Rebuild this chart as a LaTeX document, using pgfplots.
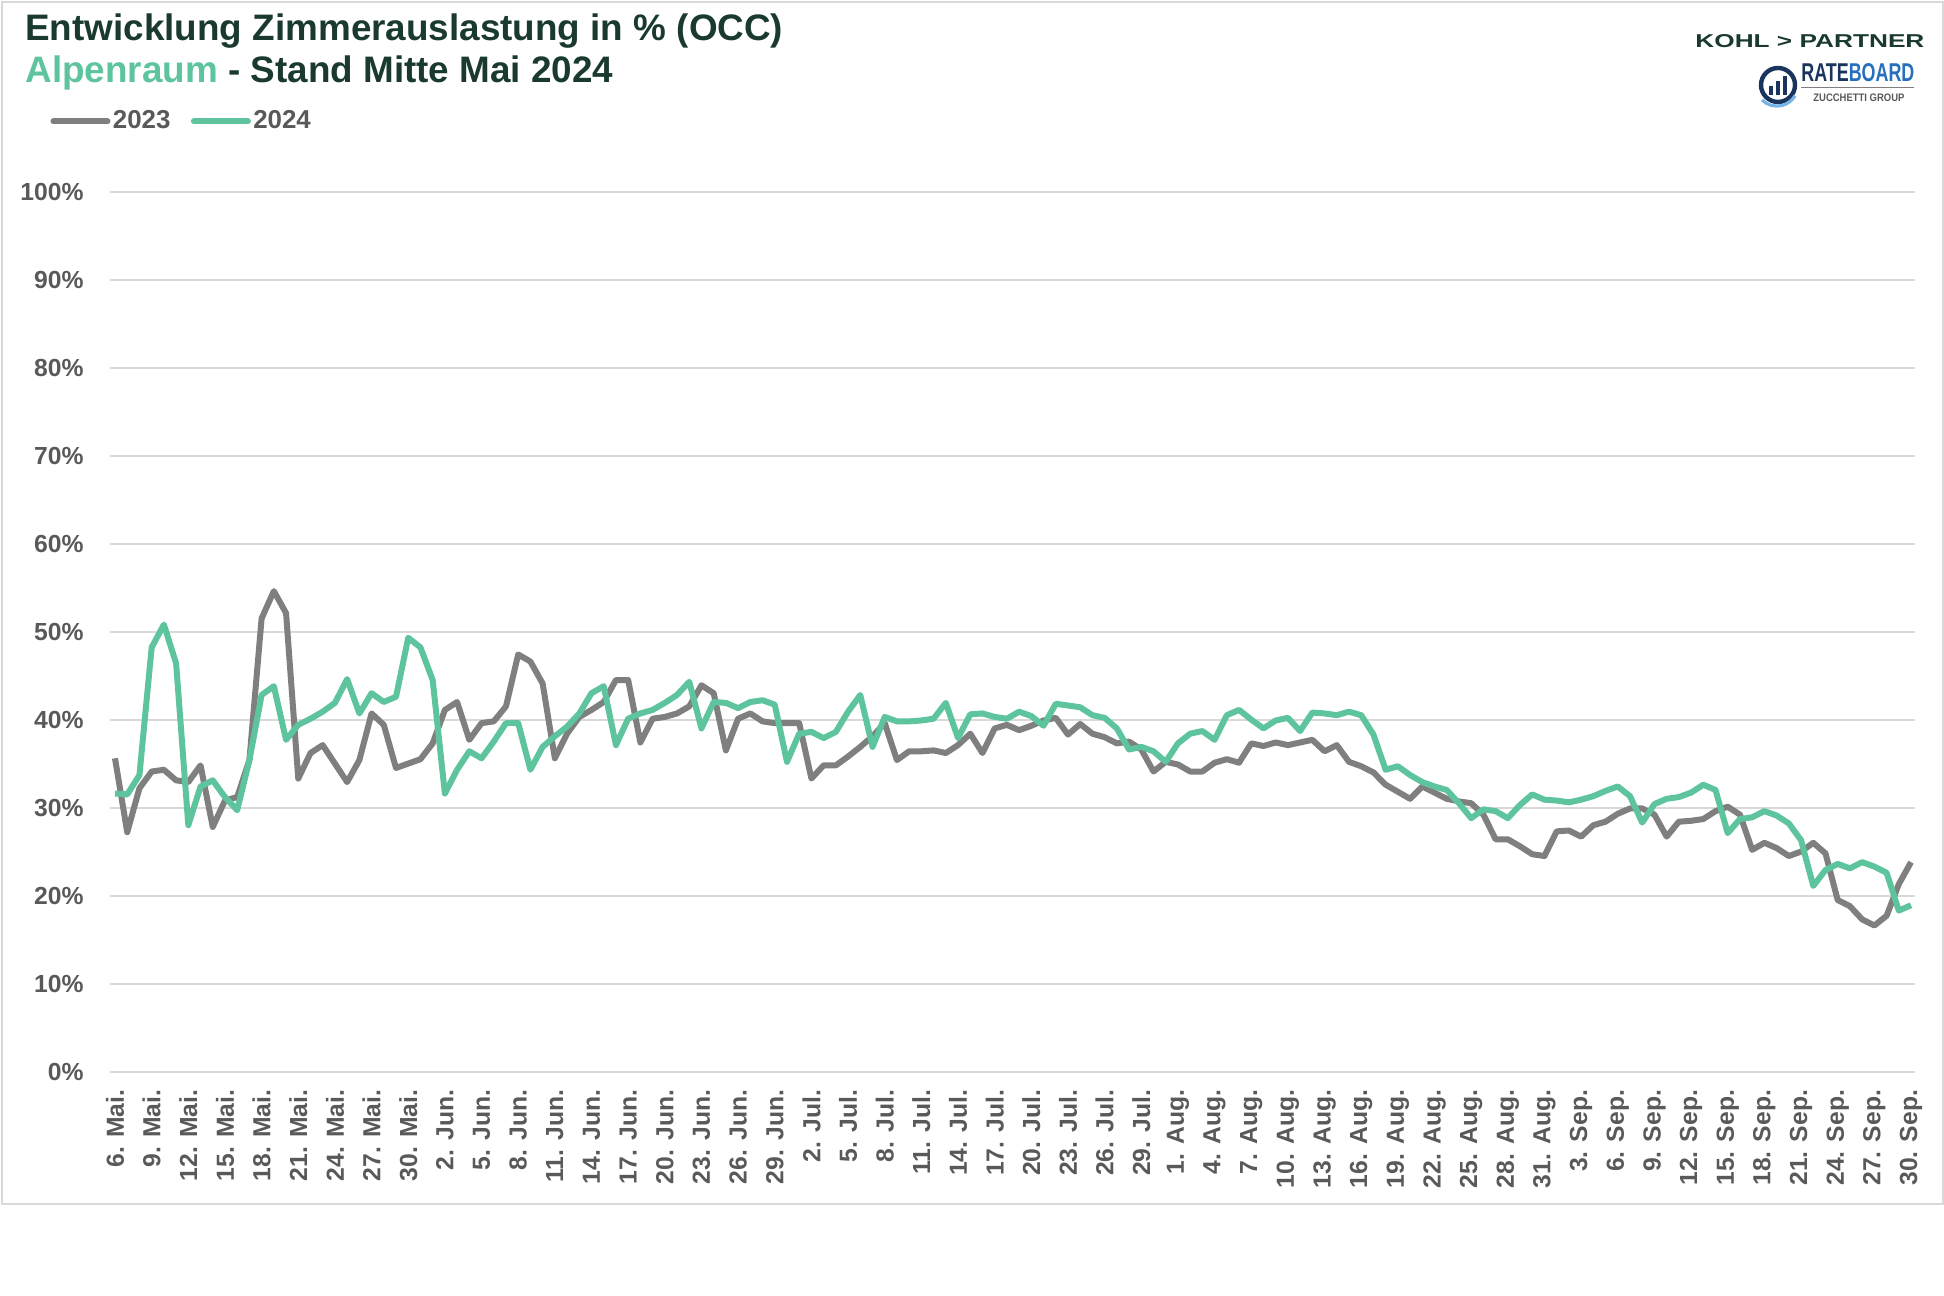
\documentclass[border=0pt]{standalone}
\usepackage{pgfplots}
\pgfplotsset{compat=1.18}
\usepackage{pgfplotstable}
\usepackage{fontspec}
\setmainfont{Liberation Sans}
\usepackage{graphicx}
\definecolor{titlegreen}{RGB}{26,58,46}
\definecolor{lgreen}{RGB}{94,196,158}
\definecolor{lgray}{RGB}{127,127,127}
\definecolor{tickgray}{RGB}{89,89,89}
\definecolor{gridgray}{RGB}{217,217,217}
\definecolor{navy}{RGB}{27,52,94}
\definecolor{rbblue}{RGB}{38,110,190}
\definecolor{rblight}{RGB}{120,180,230}

\pgfplotstableread{
d y23 y24
0 35.7 31.7
1 27.3 31.6
2 32.3 33.8
3 34.2 48.3
4 34.4 50.9
5 33.2 46.5
6 33.0 28.1
7 34.9 32.5
8 27.9 33.2
9 30.9 31.3
10 31.3 29.8
11 35.5 35.5
12 51.6 42.9
13 54.7 43.9
14 52.2 37.8
15 33.4 39.5
16 36.3 40.2
17 37.2 41.0
18 35.1 42.0
19 33.0 44.7
20 35.5 40.8
21 40.8 43.1
22 39.5 42.1
23 34.6 42.7
24 35.1 49.4
25 35.6 48.3
26 37.4 44.6
27 41.2 31.7
28 42.1 34.4
29 37.8 36.5
30 39.7 35.7
31 39.9 37.6
32 41.6 39.7
33 47.5 39.7
34 46.7 34.4
35 44.2 37.0
36 35.7 38.2
37 38.5 39.3
38 40.4 40.8
39 41.2 43.1
40 42.1 43.9
41 44.6 37.2
42 44.6 40.2
43 37.5 40.8
44 40.2 41.2
45 40.4 42.0
46 40.8 42.9
47 41.6 44.4
48 44.0 39.1
49 43.1 42.1
50 36.6 42.0
51 40.2 41.4
52 40.8 42.1
53 39.9 42.3
54 39.7 41.8
55 39.7 35.3
56 39.7 38.5
57 33.4 38.7
58 34.9 38.0
59 34.9 38.7
60 35.9 41.0
61 37.0 42.9
62 38.2 37.0
63 39.7 40.4
64 35.5 39.9
65 36.5 39.9
66 36.5 40.0
67 36.6 40.2
68 36.3 42.0
69 37.2 38.0
70 38.5 40.7
71 36.3 40.8
72 39.1 40.4
73 39.5 40.2
74 38.9 41.0
75 39.4 40.5
76 40.0 39.4
77 40.3 41.9
78 38.4 41.7
79 39.6 41.5
80 38.5 40.6
81 38.1 40.3
82 37.4 39.1
83 37.6 36.7
84 36.7 37.0
85 34.2 36.5
86 35.3 35.3
87 35.0 37.4
88 34.2 38.5
89 34.2 38.8
90 35.2 37.8
91 35.6 40.6
92 35.2 41.2
93 37.4 40.1
94 37.1 39.1
95 37.5 40.0
96 37.2 40.3
97 37.5 38.8
98 37.8 40.9
99 36.5 40.8
100 37.2 40.6
101 35.3 41.0
102 34.8 40.6
103 34.1 38.4
104 32.7 34.4
105 31.9 34.8
106 31.1 33.8
107 32.5 33.0
108 31.8 32.5
109 31.1 32.1
110 30.8 30.6
111 30.6 28.9
112 29.3 29.9
113 26.5 29.7
114 26.5 28.9
115 25.7 30.4
116 24.8 31.6
117 24.6 31.0
118 27.4 30.9
119 27.5 30.7
120 26.8 31.0
121 28.1 31.4
122 28.5 32.0
123 29.4 32.5
124 30.0 31.4
125 30.0 28.4
126 29.3 30.5
127 26.8 31.1
128 28.5 31.3
129 28.6 31.8
130 28.8 32.7
131 29.7 32.1
132 30.2 27.2
133 29.3 28.8
134 25.3 29.0
135 26.1 29.7
136 25.5 29.2
137 24.6 28.3
138 25.1 26.4
139 26.1 21.2
140 24.9 23.0
141 19.6 23.7
142 18.9 23.2
143 17.4 23.9
144 16.7 23.4
145 17.8 22.7
146 21.4 18.4
147 23.9 19.0
}\occdata

\begin{document}
\begin{tikzpicture}[x=1bp,y=1bp]
\path[use as bounding box] (0,0) rectangle (972,648);
\draw[gridgray, line width=1bp] (1,46) rectangle (971.5,647);

% titles
\node[anchor=base west, inner sep=0pt, font=\fontsize{18.5}{22}\selectfont\bfseries, text=titlegreen] at (12.5,627.5) {Entwicklung Zimmerauslastung in \% (OCC)};
\node[anchor=base west, inner sep=0pt, font=\fontsize{18.5}{22}\selectfont\bfseries, text=titlegreen] at (12.5,606.5) {\textcolor{lgreen}{Alpenraum} - Stand Mitte Mai 2024};

% logos
\node[anchor=base west, inner sep=0pt, text=titlegreen] at (847.5,624) {\resizebox{114.5bp}{6.5bp}{\bfseries KOHL > PARTNER}};
\node[anchor=base west, inner sep=0pt] at (900.5,607) {\resizebox{56.5bp}{9bp}{\bfseries\textcolor{navy}{RATE}\textcolor{rbblue}{BOARD}}};
\draw[lgray, line width=0.5bp] (900.5,604.3) -- (957,604.3);
\node[anchor=base west, inner sep=0pt, text=tickgray] at (906.5,597) {\resizebox{45.5bp}{3.8bp}{\bfseries ZUCCHETTI GROUP}};
\draw[navy, line width=2.2bp] (889,605.5) circle (8.5);
\draw[rblight, line width=1.6bp] (881,598) arc (225:330:10.5);
\fill[navy] (884.5,600.5) rectangle (886.5,605);
\fill[navy] (888,600.5) rectangle (890,607.5);
\fill[navy] (891.5,600.5) rectangle (893.5,610);

\begin{axis}[
  at={(55bp,111.75bp)}, anchor=south west,
  scale only axis, width=902.5bp, height=440bp,
  xmin=-0.41, xmax=147.33, ymin=0, ymax=100,
  ytick={0,10,...,100},
  yticklabels={0\%,10\%,20\%,30\%,40\%,50\%,60\%,70\%,80\%,90\%,100\%},
  xtick={0,3,...,147},
  xticklabels={6. Mai.,9. Mai.,12. Mai.,15. Mai.,18. Mai.,21. Mai.,24. Mai.,27. Mai.,30. Mai.,
    2. Jun.,5. Jun.,8. Jun.,11. Jun.,14. Jun.,17. Jun.,20. Jun.,23. Jun.,26. Jun.,29. Jun.,
    2. Jul.,5. Jul.,8. Jul.,11. Jul.,14. Jul.,17. Jul.,20. Jul.,23. Jul.,26. Jul.,29. Jul.,
    1. Aug.,4. Aug.,7. Aug.,10. Aug.,13. Aug.,16. Aug.,19. Aug.,22. Aug.,25. Aug.,28. Aug.,31. Aug.,
    3. Sep.,6. Sep.,9. Sep.,12. Sep.,15. Sep.,18. Sep.,21. Sep.,24. Sep.,27. Sep.,30. Sep.},
  ymajorgrids, grid style={gridgray, line width=1bp},
  axis line style={draw=none}, major tick length=0pt,
  ticklabel style={font=\fontsize{12.4}{14}\selectfont\bfseries, text=tickgray},
  xticklabel style={rotate=90, anchor=east, inner sep=0pt},
  yticklabel style={anchor=east, inner sep=0pt},
  xticklabel shift=8.5bp, yticklabel shift=13bp,
  legend columns=2,
  legend style={at={(-0.0332,1.0807)}, anchor=west, draw=none, fill=none, inner sep=0pt,
    nodes={inner sep=1.2bp, font=\fontsize{13}{15}\selectfont\bfseries, text=tickgray},
    /tikz/every even column/.append style={column sep=9bp}},
  legend image code/.code={\draw[#1, line cap=round] (0bp,0bp) -- (27bp,0bp);},
]
\addplot[lgray, line width=3bp, line join=round] table[x=d, y=y23] {\occdata};
\addlegendentry{2023}
\addplot[lgreen, line width=3bp, line join=round] table[x=d, y=y24] {\occdata};
\addlegendentry{2024}
\end{axis}
\end{tikzpicture}
\end{document}
